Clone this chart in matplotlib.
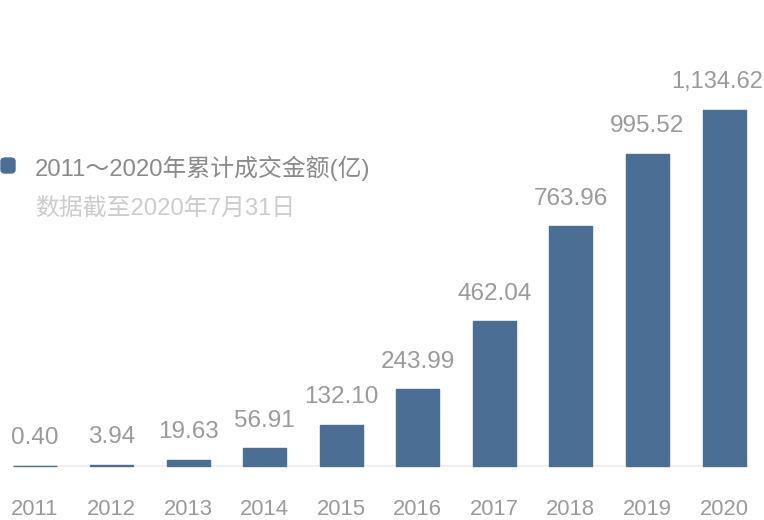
"""Bar chart: cumulative transaction volume 2011-2020."""
import matplotlib

matplotlib.use("Agg")
import matplotlib.pyplot as plt
from matplotlib.patches import FancyBboxPatch

plt.rcParams["font.family"] = ["Liberation Sans", "Noto Sans CJK SC", "DejaVu Sans"]

years = ["2011", "2012", "2013", "2014", "2015", "2016", "2017", "2018", "2019", "2020"]
values = [0.40, 3.94, 19.63, 56.91, 132.10, 243.99, 462.04, 763.96, 995.52, 1134.62]
labels = ["0.40", "3.94", "19.63", "56.91", "132.10", "243.99", "462.04", "763.96", "995.52", "1,134.62"]
legend_title = "2011～2020年累计成交金额(亿)"
legend_note = "数据截至2020年7月31日"

bar_color = "#4a6e94"

fig = plt.figure(figsize=(7.64, 5.2), dpi=100)
ax = fig.add_axes([0, 0, 1, 1])
ax.set_xlim(-0.457, 9.522)
ax.set_ylim(-172.1, 1485.2)
ax.axis("off")

x = list(range(len(years)))
ax.bar(x, values, width=0.562, color=bar_color, edgecolor=bar_color, lw=1, zorder=2)
ax.axhline(0, xmin=0.018, xmax=0.979, color="#ececec", lw=1.2, zorder=1)

for i, (xi, v, lab, yr) in enumerate(zip(x, values, labels, years)):
    if i == len(x) - 1:
        # last label would run past the right edge, pin it there
        ax.annotate(lab, (0.999, v), xycoords=("axes fraction", "data"),
                    xytext=(0, 15.5), textcoords="offset points",
                    ha="right", va="baseline", fontsize=17, color="#9a9a9a")
    else:
        ax.annotate(lab, (xi, v), xytext=(0, 15.5), textcoords="offset points",
                    ha="center", va="baseline", fontsize=17.5, color="#9a9a9a")
    ax.annotate(yr, (xi, 0), xytext=(0, -35.5), textcoords="offset points",
                ha="center", va="baseline", fontsize=15.8, color="#9a9a9a")

# legend block
ax.add_patch(FancyBboxPatch((1 / 764, 1 - 173 / 520), 14 / 764, 15 / 520,
                            boxstyle="round,pad=0,rounding_size=0.006",
                            transform=fig.transFigure, color=bar_color))
fig.text(35 / 764, 1 - 176 / 520, legend_title, ha="left", va="baseline",
         fontsize=17.2, color="#8a8a8a")
fig.text(35 / 764, 1 - 215 / 520, legend_note, ha="left", va="baseline",
         fontsize=17.2, color="#cccccc")

fig.savefig("out.png", dpi=100)
